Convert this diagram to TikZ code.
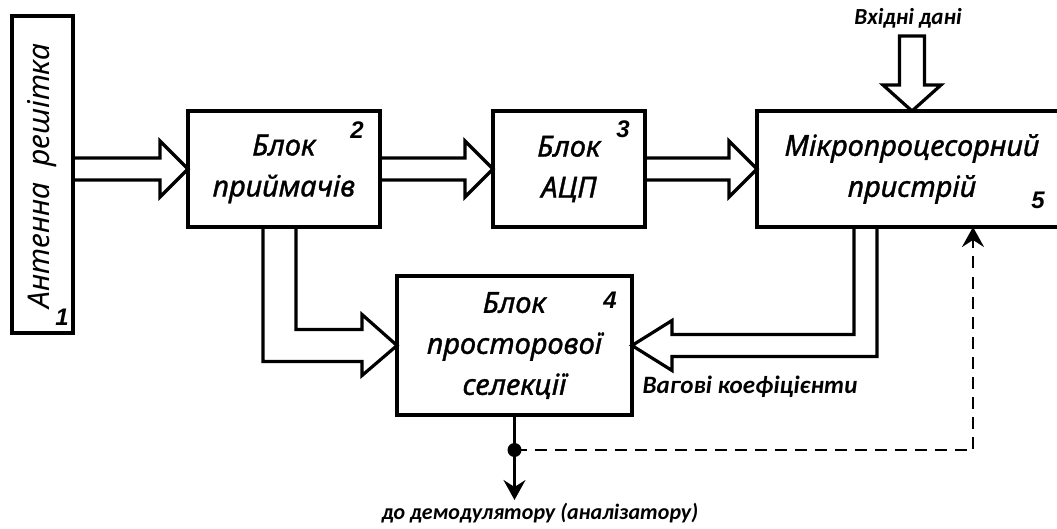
\documentclass[tikz,border=0pt]{standalone}
\usepackage{fontspec}
\setmainfont{Liberation Sans}
\newfontfamily\capfont{Carlito}
\newfontfamily\blkfont{Noto Sans}[ItalicFeatures={FakeBold=1.2}]
\newfontfamily\antfont{Noto Sans}
\usetikzlibrary{calc,arrows.meta}

\tikzset{
  blk/.style={draw, line width=3.5pt, inner sep=0pt, outer sep=0pt, align=center,
    font=\blkfont\fontsize{29}{41}\selectfont\itshape},
  pipe/.style={line width=3.2pt, line join=miter},
  num/.style={font=\fontsize{24}{24}\selectfont\bfseries\itshape},
  lbltext/.style={font=\capfont\fontsize{23}{23}\selectfont\bfseries\itshape},
  sig/.style={line width=2.6pt, -{Stealth[length=20pt,width=22pt,inset=7pt]}},
}

\begin{document}
\begin{tikzpicture}[x=1pt,y=-1pt]
\useasboundingbox (0,0) rectangle (1057,529);

% Blocks
\node[blk, minimum width=61pt, minimum height=317pt] (ant) at (42.5,174.5) {};
\node[rotate=90, font=\antfont\fontsize{30}{30}\selectfont\itshape] (anttxt) at (42,176) {Антенна\ \ решітка};
\node[blk, minimum width=192pt, minimum height=116pt] (b2) at (284,169) {Блок\\приймачів};
\node[blk, minimum width=152pt, minimum height=116pt] (b3) at (569,169) {Блок\\АЦП};
\node[blk, minimum width=310pt, minimum height=116pt] (b5) at (912,169) {Мікропроцесорний\\пристрій};
\node[blk, minimum width=235pt, minimum height=139pt] (b4) at (514.5,345.5) {Блок\\просторової\\селекції};

% Numbers
\node[num] (n1) at (62,317) {1};
\node[num] (n2) at (357,130) {2};
\node[num] (n3) at (623,129) {3};
\node[num] (n4) at (610,300) {4};
\node[num] (n5) at (1038,200) {5};

% Labels
\node[lbltext] (inp) at (908,18) {Вхідні дані};
\node[lbltext, font=\capfont\fontsize{25}{25}\selectfont\bfseries\itshape] (wts) at (750,387) {Вагові коефіцієнти};
\node[lbltext, font=\capfont\fontsize{22}{22}\selectfont\bfseries\itshape] (demod) at (540,513) {до демодулятору (аналізатору)};

% Hollow arrows between blocks
\draw[pipe] ($(ant.east |- b2.west)+(0,-11)$) -- ($(b2.west)+(-28,-11)$) -- ++(0,-17)
  -- (b2.west) -- ++(-28,28) -- ++(0,-17) -- ($(ant.east |- b2.west)+(0,11)$);
\draw[pipe] ($(b2.east)+(0,-11)$) -- ($(b3.west)+(-28,-11)$) -- ++(0,-17)
  -- (b3.west) -- ++(-28,28) -- ++(0,-17) -- ($(b2.east)+(0,11)$);
\draw[pipe] ($(b3.east)+(0,-11)$) -- ($(b5.west)+(-28,-11)$) -- ++(0,-17)
  -- (b5.west) -- ++(-28,28) -- ++(0,-17) -- ($(b3.east)+(0,11)$);
\draw[pipe] (b5.north) -- ++(-29,-26) -- ++(16.5,0) -- ++(0,-49) -- ++(25,0)
  -- ++(0,49) -- ++(16.5,0) -- cycle;

% Bent arrows into block 4
\draw[pipe] ($(b2.south)+(12,0)$) |- ($(b4.west)+(-35,-16)$) -- ++(0,-15)
  -- (b4.west) -- ++(-35,30) -- ++(0,-14) -| ($(b2.south)+(-21,0)$);
\draw[pipe] ($(b5.south)+(-58,0)$) |- ($(b4.east)+(40,-11)$) -- ++(0,-14)
  -- (b4.east) -- ++(40,25) -- ++(0,-14) -| ($(b5.south)+(-35,0)$);

% Output and feedback
\coordinate (tap) at ($(b4.south)+(0,35)$);
\coordinate (outend) at ($(b4.south)+(0,85)$);
\draw[sig] (b4.south) -- (tap) -- (outend);
\fill (tap) circle (7);
\draw[sig, dash pattern=on 12pt off 8pt] (tap) -| ($(b5.south)+(61,0)$);
\end{tikzpicture}
\end{document}
